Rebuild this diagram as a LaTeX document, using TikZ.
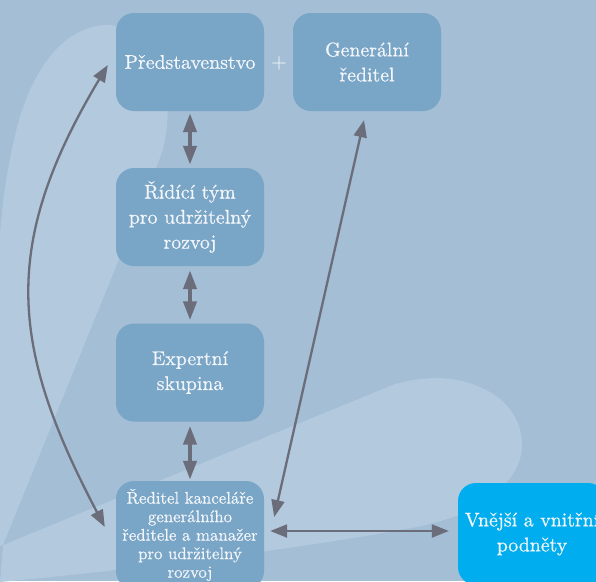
\documentclass[tikz,border=0pt]{standalone}
\usepackage{fontspec}
\setmainfont{lmroman10-regular.otf}[FakeBold=0.6]
\usetikzlibrary{arrows.meta,calc}
\definecolor{bgbase}{RGB}{163,190,213}
\definecolor{bglight}{RGB}{179,201,222}
\definecolor{boxfill}{RGB}{121,165,198}
\definecolor{brightfill}{RGB}{0,174,239}
\definecolor{arrowgray}{RGB}{107,110,122}
\definecolor{boxtext}{RGB}{242,245,249}
\tikzset{
  box/.style={rectangle, rounded corners=18pt, fill=boxfill, text=boxtext,
    minimum width=148pt, minimum height=98pt, align=center, inner sep=2pt,
    font=\fontsize{19.8pt}{25pt}\selectfont\bfseries},
  smallbox/.style={box, font=\fontsize{16.8pt}{18.5pt}\selectfont\bfseries},
  brightbox/.style={box, fill=brightfill},
  thickarrow/.style={draw=arrowgray, line width=4pt,
    {Triangle[length=19pt,width=13pt]}-{Triangle[length=19pt,width=13pt]}},
  thinarrow/.style={draw=arrowgray, line width=2.3pt,
    {Triangle[length=17pt,width=13pt]}-{Triangle[length=17pt,width=13pt]}},
  plus/.style={text=boxtext, font=\fontsize{19.8pt}{25pt}\selectfont, inner sep=0pt}
}
\begin{document}
\begin{tikzpicture}[x=1pt,y=-1pt]
\useasboundingbox (0,0) rectangle (596,581);
\clip (0,0) rectangle (596,581);
\fill[bgbase] (0,0) rectangle (596,581);
% light upper leaf
\fill[bglight] (3,545) -- (158,163) .. controls (170,133) and (172,95) .. (157,62)
  .. controls (145,36) and (125,24) .. (105,25)
  .. controls (60,28) and (28,75) .. (14,140)
  .. controls (6,175) and (2,205) .. (0,235) -- (0,546) -- cycle;
% light lower leaf
\fill[bglight] (3,545) -- (395,384) .. controls (420,377) and (450,375) .. (475,385)
  .. controls (505,396) and (522,418) .. (522,445)
  .. controls (522,472) and (500,495) .. (465,513)
  .. controls (440,522) and (420,527) .. (400,530)
  .. controls (300,548) and (150,568) .. (0,582) -- cycle;

\node[box] (pred) at (190,62) {Představenstvo};
\node[plus] (plus) at (279,63) {+};
\node[box] (gen) at (367,62) {Generální\\ředitel};
\node[box] (rid) at (190,217) {Řídící tým\\pro udržitelný\\rozvoj};
\node[box] (exp) at (190,372.5) {Expertní\\skupina};
\node[smallbox, minimum height=108pt] (red) at (190,535) {Ředitel kanceláře\\generálního\\ředitele a manažer\\pro udržitelný\\rozvoj};
\node[brightbox, minimum height=102pt] (vn) at (532,534) {Vnější a vnitřní\\podněty};

\draw[thickarrow, shorten <=2pt, shorten >=3pt] (pred.south) -- (rid.north);
\draw[thickarrow, shorten <=4pt, shorten >=3pt] (rid.south) -- (exp.north);
\draw[thickarrow, shorten <=4pt, shorten >=1pt] (exp.south) -- (red.north);
\draw[thinarrow] ($(pred.west)+(-8,3)$) .. controls (0,245) and (10,347) .. ($(red.west)+(-11,-8)$);
\draw[thinarrow] ($(gen.south)+(-3,9)$) -- ($(red.east)+(10,-18)$);
\draw[thinarrow] ($(red.east)+(6,-4)$) -- ($(vn.west)+(-9,-3)$);
\end{tikzpicture}
\end{document}
